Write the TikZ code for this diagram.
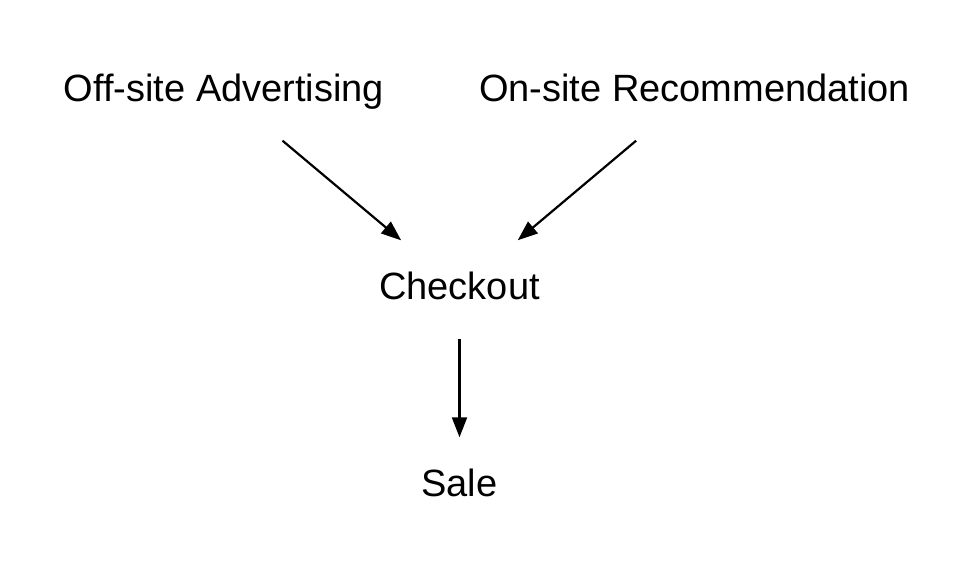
\documentclass[tikz,border=0pt]{standalone}
\usepackage{fontspec}
\setmainfont{Liberation Sans}
\usetikzlibrary{arrows.meta}

\tikzset{
  stage/.style={inner sep=0pt, minimum height=98pt, text height=27pt, text depth=8pt,
    font=\fontsize{38}{45}\selectfont},
  flow/.style={-{Triangle[length=20pt,width=15pt]}, line width=2.2pt}
}

\begin{document}
\begin{tikzpicture}[x=1pt, y=-1pt]
  \useasboundingbox (0,0) rectangle (970,570);
  \node[stage] (offsite)  at (224,91.5)  {Off-site Advertising};
  \node[stage] (onsite)   at (694.5,91.5) {On-site Recommendation};
  \node[stage] (checkout) at (459.5,289.5) {Checkout};
  \node[stage] (sale)     at (459.5,486.5) {Sale};
  \path[flow]
  (offsite)  edge (checkout)
  (onsite)   edge (checkout)
  (checkout) edge (sale)
  ;
\end{tikzpicture}
\end{document}
